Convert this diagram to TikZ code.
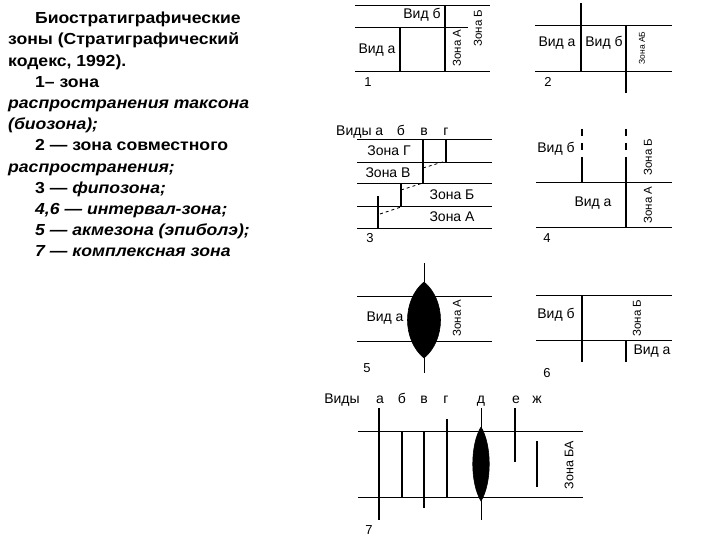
\documentclass[tikz,border=0pt]{standalone}
\usepackage{fontspec}
\setmainfont{Liberation Sans}
\newfontfamily\widefont{Liberation Sans}[FakeStretch=1.1]
\usetikzlibrary{positioning}

\begin{document}
\begin{tikzpicture}
[x=1pt, y=-1pt, every node/.style={inner sep=0pt},
 hline/.style={line width=0.8pt, color=black},
 vline/.style={line width=1.6pt, color=black},
 thinv/.style={line width=0.9pt, color=black},
 lbl/.style={font=\fontsize{14}{16}\selectfont},
 zlbl/.style={font=\fontsize{11.5}{13}\selectfont, rotate=90},
 num/.style={font=\fontsize{13}{15}\selectfont},
 lens/.style={fill=black, draw=black, line width=0.6pt}]
\useasboundingbox (0,0) rectangle (720,540);
% text block
\node (txt) [anchor=north west, align=left, font=\widefont\bfseries\fontsize{16}{21.2}\selectfont] at (8,12) {%
\hspace*{27pt}Биостратиграфические\\
зоны (Стратиграфический\\
кодекс, 1992).\\
\hspace*{27pt}1– зона\\
\textit{распространения таксона}\\
\textit{(биозона);}\\
\hspace*{27pt}2 — зона совместного\\
\textit{распространения;}\\
\hspace*{27pt}3 — \textit{фипозона;}\\
\hspace*{27pt}\textit{4,6 — интервал-зона;}\\
\hspace*{27pt}\textit{5 — акмезона (эпиболэ);}\\
\hspace*{27pt}\textit{7 — комплексная зона}};
% panel 1
\draw [hline] (355,5) -- (490,5);
\draw [hline] (355,27) -- (468,27);
\draw [hline] (355,71) -- (490,71);
\draw [vline] (400,27) -- (400,71);
\draw [vline] (445,5) -- (445,71);
\node (p1b) [lbl] at (422,15) {Вид б};
\node (p1a) [lbl] at (377,50) {Вид а};
\node (p1zA) [zlbl] at (457,48) {Зона А};
\node (p1zB) [zlbl] at (478,28) {Зона Б};
\node (n1) [num] at (368,82) {1};
% panel 2
\draw [hline] (535,25) -- (672,25);
\draw [hline] (535,71) -- (672,71);
\draw [vline] (581,3) -- (581,71);
\draw [vline] (626,25) -- (626,93);
\node (p2a) [lbl] at (557,43) {Вид а};
\node (p2b) [lbl] at (604,43) {Вид б};
\node (p2z) [zlbl, font=\fontsize{8.5}{10}\selectfont] at (642,48) {Зона АБ};
\node (n2) [num] at (548,82) {2};
% panel 3
\node (p3v) [lbl, anchor=base west] at (336,136) {Виды а};
\node (p3b) [lbl, anchor=base] at (401,136) {б};
\node (p3c) [lbl, anchor=base] at (424,136) {в};
\node (p3d) [lbl, anchor=base] at (446,136) {г};
\foreach \yy in {139,162,183,206,228}
  \draw [hline] (357,\yy) -- (492,\yy);
\draw [vline] (423,139) -- (423,183);
\draw [vline] (446,139) -- (446,162);
\draw [vline] (401,183) -- (401,206);
\draw [vline] (378,196) -- (378,228);
\draw [hline, dashed] (380,214) -- (401,207);
\draw [hline, dashed] (401,190) -- (423,183);
\draw [hline, dashed] (423,168) -- (446,161);
\node (p3zG) [lbl] at (389,151) {Зона Г};
\node (p3zV) [lbl] at (388,173) {Зона В};
\node (p3zB) [lbl] at (452,195) {Зона Б};
\node (p3zA) [lbl] at (452,217) {Зона А};
\node (n3) [num] at (370,238) {3};
% panel 4
\draw [hline] (536,182) -- (672,182);
\draw [hline] (536,227) -- (672,227);
\draw [vline, dash pattern=on 7pt off 7pt] (582,129) -- (582,160);
\draw [vline] (582,160) -- (582,182);
\draw [vline, dash pattern=on 7pt off 7pt] (626,129) -- (626,160);
\draw [vline] (626,160) -- (626,227);
\node (p4b) [lbl] at (556,149) {Вид б};
\node (p4a) [lbl] at (593,203) {Вид а};
\node (p4zB) [zlbl] at (648,157) {Зона Б};
\node (p4zA) [zlbl] at (648,205) {Зона А};
\node (n4) [num] at (547,238) {4};
% panel 5
\draw [hline] (357,296) -- (492,296);
\draw [hline] (357,341) -- (492,341);
\draw [thinv] (424,263) -- (424,373);
\draw [lens] (424,282) .. controls (446,300) and (446,340) .. (424,358)
  .. controls (402,340) and (402,300) .. (424,282);
\node (p5a) [lbl] at (385,318) {Вид а};
\node (p5z) [zlbl] at (457,318) {Зона А};
\node (n5) [num] at (367,368) {5};
% panel 6
\draw [hline] (536,295) -- (672,295);
\draw [hline] (536,340) -- (672,340);
\draw [vline] (582,295) -- (582,362);
\draw [vline] (626,340) -- (626,362);
\node (p6b) [lbl] at (556,315) {Вид б};
\node (p6z) [zlbl] at (637,318) {Зона Б};
\node (p6a) [lbl] at (652,351) {Вид а};
\node (n6) [num] at (547,373) {6};
% panel 7
\node (p7v) [lbl, anchor=base] at (342,403) {Виды};
\foreach \xx/\ll in {380/а,402/б,424/в,446/г,481/д,516/е,537/ж}
  \node (p7\xx) [lbl, anchor=base] at (\xx,403) {\ll};
\draw [hline] (358,431) -- (583,431);
\draw [hline] (358,497) -- (583,497);
\draw [vline] (379,408) -- (379,520);
\draw [vline] (402,431) -- (402,497);
\draw [vline] (424,431) -- (424,508);
\draw [vline] (447,419) -- (447,497);
\draw [thinv] (481,408) -- (481,520);
\draw [lens] (481,427) .. controls (492,445) and (492,483) .. (481,501)
  .. controls (470,483) and (470,445) .. (481,427);
\draw [vline] (515,408) -- (515,462);
\draw [vline] (537,441) -- (537,487);
\node (p7z) [zlbl, font=\fontsize{12.5}{14}\selectfont] at (569,465) {Зона БА};
\node (n7) [num] at (369,530) {7};
\end{tikzpicture}
\end{document}
